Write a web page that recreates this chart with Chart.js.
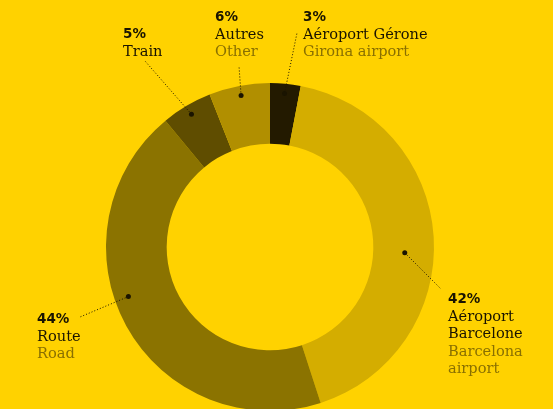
<!DOCTYPE html>
<html>
<head>
<meta charset="utf-8">
<script src="https://cdn.jsdelivr.net/npm/chart.js@4"></script>
<style>
  html, body { margin: 0; padding: 0; background: #ffd200; overflow: hidden; }
  canvas { display: block; }
</style>
</head>
<body>
<canvas id="donut" width="553" height="415"></canvas>
<script>
// data, clockwise from 12 o'clock
const categories = ["Aéroport Gérone", "Aéroport Barcelone", "Route", "Train", "Autres"];
const englishNames = ["Girona airport", "Barcelona airport", "Road", "Train", "Other"];
const shares = [3, 42, 44, 5, 6];
const sliceColors = ["#231a00", "#d4ad00", "#8b7300", "#5f4d00", "#b18f00"];

// label layout: where the dot sits in the slice, where the leader ends, where text goes
const labelLayout = [
  { at: 0.5, r: 0.84, end: [297, 33], x: 303, y: 21, lines: ["Aéroport Gérone"], en: ["Girona airport"] },
  { at: 0.54, r: 0.52, end: [441, 289], x: 448, y: 303, lines: ["Aéroport", "Barcelone"], en: ["Barcelona", "airport"] },
  { at: 0.56, r: 0.77, end: [80, 317], x: 37, y: 323, lines: ["Route"], en: ["Road"] },
  { at: 0.5, r: 0.84, end: [145, 61], x: 123, y: 38, lines: ["Train"], en: [] },
  { at: 0.5, r: 0.84, end: [239, 66], x: 215, y: 21, lines: ["Autres"], en: ["Other"] }
];

const calloutPlugin = {
  id: "callouts",
  afterDraw(chart) {
    const ctx = chart.ctx;
    const arcs = chart.getDatasetMeta(0).data;
    arcs.forEach((arc, i) => {
      const lay = labelLayout[i];
      const a = arc.startAngle + (arc.endAngle - arc.startAngle) * lay.at;
      const rr = arc.innerRadius + (arc.outerRadius - arc.innerRadius) * lay.r;
      const px = arc.x + Math.cos(a) * rr;
      const py = arc.y + Math.sin(a) * rr;

      ctx.save();
      ctx.strokeStyle = "#1a1400";
      ctx.lineWidth = 1;
      ctx.setLineDash([1, 2]);
      ctx.beginPath();
      ctx.moveTo(px, py);
      ctx.lineTo(lay.end[0], lay.end[1]);
      ctx.stroke();
      ctx.setLineDash([]);
      ctx.fillStyle = "#1a1400";
      ctx.beginPath();
      ctx.arc(px, py, 2.5, 0, Math.PI * 2);
      ctx.fill();

      ctx.textBaseline = "alphabetic";
      ctx.textAlign = "left";
      ctx.font = "900 13.5px 'DejaVu Sans'";
      ctx.fillText(shares[i] + "%", lay.x, lay.y);
      ctx.font = "14.6px 'DejaVu Serif'";
      let y = lay.y;
      lay.lines.forEach(t => { y += 17.5; ctx.fillText(t, lay.x, y); });
      ctx.fillStyle = "#8a7000";
      lay.en.forEach(t => { y += 17.5; ctx.fillText(t, lay.x, y); });
      ctx.restore();
    });
  }
};

new Chart(document.getElementById("donut"), {
  type: "doughnut",
  data: {
    labels: categories,
    datasets: [{
      data: shares,
      backgroundColor: sliceColors,
      borderWidth: 0
    }]
  },
  options: {
    responsive: false,
    animation: false,
    cutout: "63%",
    layout: { padding: { top: 83, bottom: 4, left: 106, right: 119 } },
    plugins: {
      legend: { display: false },
      tooltip: { enabled: false }
    }
  },
  plugins: [calloutPlugin]
});
</script>
</body>
</html>
